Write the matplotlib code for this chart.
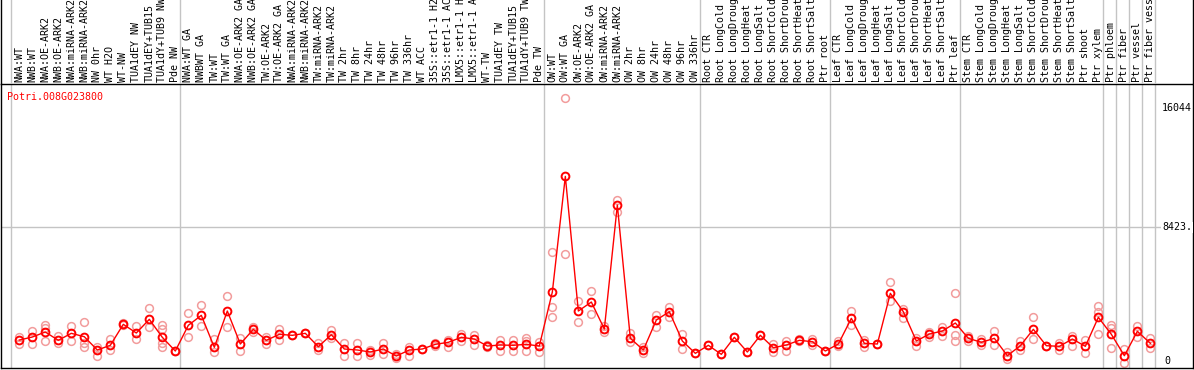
import matplotlib
matplotlib.use('agg')
import matplotlib.pyplot as plt

gene = 'Potri.008G023800'

samples = [
    'NWA:WT', 'NWB:WT', 'NWA:OE-ARK2', 'NWB:OE-ARK2', 'NWA:miRNA-ARK2', 'NWB:miRNA-ARK2',
    'NW 0hr', 'WT H2O', 'WT-NW', 'TUA1dEY NW', 'TUA1dEY+TUB15', 'TUA1dY+TUB9 NW', 'Pde NW',
    'NWA:WT GA', 'NWBWT GA', 'TW:WT', 'TW:WT GA', 'NWA:OE-ARK2 GA', 'NWB:OE-ARK2 GA',
    'TW:OE-ARK2', 'TW:OE-ARK2 GA', 'NWA:miRNA-ARK2', 'NWB:miRNA-ARK2', 'TW:miRNA-ARK2',
    'TW:miRNA-ARK2', 'TW 2hr', 'TW 8hr', 'TW 24hr', 'TW 48hr', 'TW 96hr', 'TW 336hr', 'WT ACC',
    '35S::etr1-1 H2O', '35S::etr1-1 ACC', 'LMX5::etr1-1 H2O', 'LMX5::etr1-1 ACC', 'WT-TW',
    'TUA1dEY TW', 'TUA1dEY+TUB15', 'TUA1dY+TUB9 TW', 'Pde TW',
    'OW:WT', 'OW:WT GA', 'OW:OE-ARK2', 'OW:OE-ARK2 GA', 'OW:miRNA-ARK2', 'OW:miRNA-ARK2',
    'OW 2hr', 'OW 8hr', 'OW 24hr', 'OW 48hr', 'OW 96hr', 'OW 336hr',
    'Root CTR', 'Root LongCold', 'Root LongDrought', 'Root LongHeat', 'Root LongSalt',
    'Root ShortCold', 'Root ShortDrought', 'Root ShortHeat', 'Root ShortSalt', 'Ptr root',
    'Leaf CTR', 'Leaf LongCold', 'Leaf LongDrought', 'Leaf LongHeat', 'Leaf LongSalt',
    'Leaf ShortCold', 'Leaf ShortDrought', 'Leaf ShortHeat', 'Leaf ShortSalt', 'Ptr leaf',
    'Stem CTR', 'Stem LongCold', 'Stem LongDrought', 'Stem LongHeat', 'Stem LongSalt',
    'Stem ShortCold', 'Stem ShortDrought', 'Stem ShortHeat', 'Stem ShortSalt', 'Ptr shoot',
    'Ptr xylem', 'Ptr phloem', 'Ptr fiber', 'Ptr vessel', 'Ptr fiber vessel',
]

# first sample index of each group (last entry = end)
group_starts = [0, 13, 41, 53, 63, 73, 84, 85, 86, 87, 88]

means = [
    1770, 1947, 2243, 1753, 2165, 1965, 1180, 1457, 2696, 2183, 2991, 1929, 1121,
    2637, 3227, 1339, 3481, 1534, 2401, 1752, 2106, 2047, 2165, 1375, 2083, 1239,
    1180, 1062, 1239, 826, 1180, 1239, 1516, 1634, 1929, 1829, 1416, 1475, 1457,
    1516, 1416,
    4602, 11428, 3481, 4012, 2419, 9735, 1870, 1180, 2950, 3440, 1711, 985,
    1457, 926, 1929, 1062, 2047, 1316, 1475, 1752, 1670, 1121,
    1534, 3050, 1575, 1534, 4525, 3440, 1711, 2124, 2301, 2773,
    1870, 1634, 1870, 844, 1434, 2401, 1434, 1398, 1829, 1398, 3109,
    2106, 844, 2283, 1575,
]

replicates = [
    [1966, 1534], [2319, 1516], [2655, 2496, 1711], [2006, 1575], [2614, 1711],
    [2814, 1575, 1375], [1375, 844], [1811, 1180], [2755, 2640], [2596, 1811],
    [3640, 2555], [2655, 2401, 1575, 1375], [1121, 1121],
    [3345, 1929], [3835, 2614], [1829, 1080], [4366, 2520], [1906, 1139],
    [2555, 2260], [1965, 1516], [2419, 1771], [2047, 2047], [2165, 2165],
    [1575, 1180], [2360, 1870], [1575, 826], [1575, 826], [1180, 885],
    [1611, 944], [944, 690], [1375, 826], [1239, 1239], [1416, 1616],
    [1771, 1375], [2124, 1711], [2066, 1475], [1475, 1357], [1771, 1139],
    [1771, 1139], [1870, 1711, 1139], [1670, 1080],
    [6948, 3701, 3146], [16044, 6850], [4073, 2816], [4663, 3306], [2225, 2613],
    [10035, 9345], [2202, 1635], [985, 1375], [3229, 2556], [3701, 3111],
    [2125, 1240], [985, 985],
    [1457, 1457], [926, 926], [1929, 1929], [1062, 1062], [2047, 2047],
    [1080, 1550], [1730, 1122], [1811, 1700], [1830, 1476], [1121, 1121],
    [1712, 1434], [3483, 2656], [1375, 1775], [1534, 1534], [5177, 4090],
    [3600, 3050], [1906, 1416], [2260, 1929], [2520, 2007], [4528, 2066, 1712],
    [1712, 2030], [1811, 1460], [2320, 1476], [1080, 649], [1712, 1160],
    [3111, 1811], [1434, 1434], [1611, 1190], [2007, 1417], [1771, 985],
    [3778, 3441, 2107], [2656, 2497, 1281], [1222, 431], [2615, 1930], [1871, 1281],
]

max_label = '16044'
mid_label = '8423.'
mid_value = 8423

W, H = 1194, 370
fig = plt.figure(figsize=(W / 100, H / 100), dpi=100)
mono = 'DejaVu Sans Mono'

ax = fig.add_axes([1 / W, 2 / H, 1192 / W, 284 / H])
lab = fig.add_axes([1 / W, 286 / H, 1192 / W, 84 / H])

xlo, xhi = -1.408, 90.28
ylo, yhi = 118, 16883
ax.set_xlim(xlo, xhi)
ax.set_ylim(ylo, yhi)
lab.set_xlim(xlo, xhi)
lab.set_ylim(0, 84)

# group separators
for g in group_starts:
    ax.axvline(g - 0.64, color='#c4c4c4', lw=1, zorder=0)
    lab.axvline(g - 0.64, color='#c4c4c4', lw=1, zorder=0)

ax.axhline(mid_value, xmax=(1161 - 1) / 1192, color='#c4c4c4', lw=1, zorder=0)

idx = list(range(len(samples)))
rx, ry = [], []
for i, reps in enumerate(replicates):
    for r in reps:
        rx.append(i)
        ry.append(r)
ax.plot(rx, ry, 'o', mfc='none', mec='#f29c9c', ms=5.6, mew=1.1, zorder=2)
ax.plot(idx, means, '-', color='red', lw=1, marker='o', mfc='none', mec='red',
        ms=5.6, mew=1.4, zorder=3)

for i, s in enumerate(samples):
    lab.text(i, 1.5, s, rotation=90, ha='center', va='bottom', fontsize=7.2,
             family=mono, color='black')

ax.text(6 / 1192, 1 - 13 / 284, gene, transform=ax.transAxes, color='red',
        fontsize=7.2, family=mono, ha='left', va='center')
ax.text(1161 / 1192, 1 - 24 / 284, max_label, transform=ax.transAxes,
        fontsize=7.2, family=mono, ha='left', va='center')
ax.text(1161 / 1192, mid_value, mid_label, transform=ax.get_yaxis_transform(),
        fontsize=7.2, family=mono, ha='left', va='center',
        bbox=dict(fc='white', ec='none', pad=0.5))
ax.text(1163 / 1192, 7 / 284, '0', transform=ax.transAxes,
        fontsize=7.2, family=mono, ha='left', va='center')

ax.set_xticks([])
ax.set_yticks([])
for sp in ax.spines.values():
    sp.set_linewidth(1)
    sp.set_color('black')

lab.set_xticks([])
lab.set_yticks([])
lab.spines['top'].set_visible(False)
lab.spines['bottom'].set_visible(False)
lab.spines['left'].set_linewidth(1)
lab.spines['right'].set_linewidth(1)
lab.patch.set_alpha(0)

fig.savefig('out.png', dpi=100)
